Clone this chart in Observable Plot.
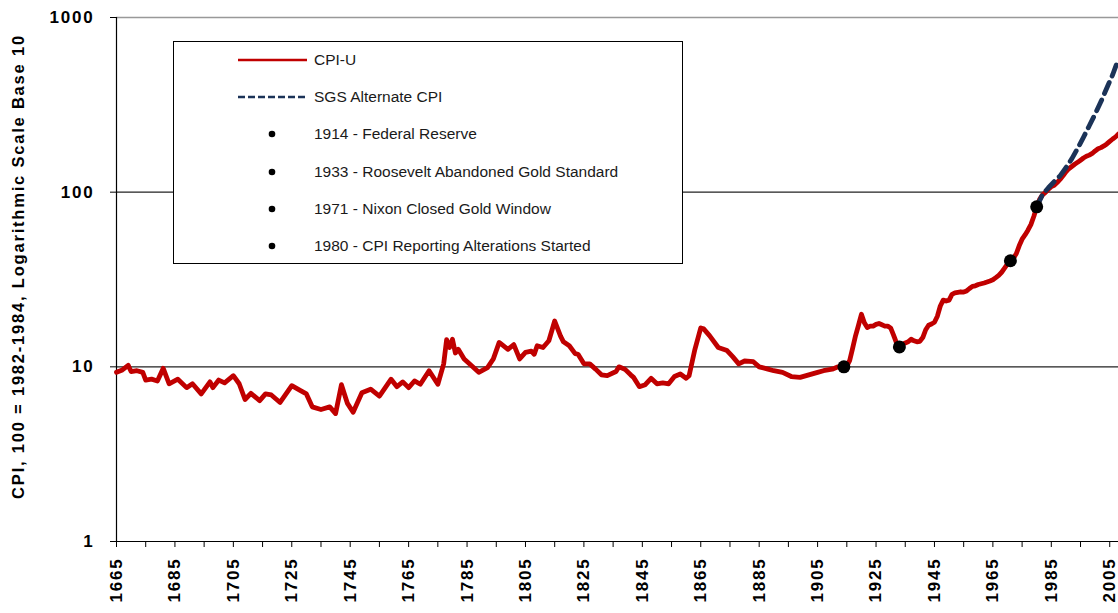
<!DOCTYPE html>
<html>
<head>
<meta charset="utf-8">
<script src="https://cdn.jsdelivr.net/npm/d3@7"></script>
<script src="https://cdn.jsdelivr.net/npm/@observablehq/plot@0.6"></script>
<style>
  html, body { margin: 0; padding: 0; background: #fff; }
  #wrap { position: relative; width: 1118px; height: 613px; }
  #chart svg text { letter-spacing: 1.8px; }
  #legend { position: absolute; left: 173px; top: 41px; width: 508px; height: 221px;
            border: 1px solid #000; background: #fff;
            font-family: "Liberation Sans", Arial, sans-serif; font-size: 15.5px; color: #1a1a1a; }
  #legend .row { position: absolute; left: 0; height: 20px; width: 100%; }
  #legend .sym { position: absolute; left: 60px; top: 0; }
  #legend .lab { position: absolute; left: 140px; top: 1px; white-space: nowrap; }
</style>
</head>
<body>
<div id="wrap">
  <div id="chart"></div>
  <div id="legend"></div>
</div>
<script>
// ---- Data ----
const cpiYears = [1665,1667,1669,1670,1672,1674,1675,1677,1679,1681,1683,1686,1689,1691,1694,1697,1698,1700,1702,1705,1707,1709,1711,1714,1716,1718,1721,1725,1728,1730,1732,1735,1738,1740,1742,1744,1746,1749,1752,1755,1759,1761,1763,1765,1767,1769,1772,1775,1777,1778,1779,1780,1781,1782,1784,1786,1789,1792,1794,1796,1799,1801,1803,1805,1807,1808,1809,1811,1813,1815,1817,1818,1820,1822,1823,1825,1827,1829,1831,1833,1836,1837,1839,1841,1842,1844,1846,1848,1850,1852,1854,1856,1858,1860,1861,1863,1865,1866,1868,1871,1874,1876,1878,1880,1883,1885,1888,1890,1893,1896,1899,1902,1905,1907,1910,1912,
1913,1914,1915,1916,1917,1918,1919,1920,1921,1922,1923,1924,1925,1926,1927,1928,1929,1930,1931,1932,1933,1934,1935,1936,1937,1938,1939,1940,1941,1942,1943,1944,1945,1946,1947,1948,1949,1950,1951,1952,1953,1954,1955,1956,1957,1958,1959,1960,1961,1962,1963,1964,1965,1966,1967,1968,1969,1970,1971,1972,1973,1974,1975,1976,1977,1978,1979,1980,1981,1982,1983,1984,1985,1986,1987,1988,1989,1990,1991,1992,1993,1994,1995,1996,1997,1998,1999,2000,2001,2002,2003,2004,2005,2006,2007,2008];
const cpiValues = [9.3,9.6,10.2,9.4,9.5,9.3,8.4,8.5,8.3,9.8,8.0,8.5,7.6,8.0,7.0,8.2,7.6,8.4,8.1,8.9,8.0,6.5,7.05,6.4,7.0,6.9,6.25,7.8,7.3,7.0,5.9,5.7,5.9,5.4,7.9,6.2,5.5,7.1,7.45,6.8,8.5,7.7,8.2,7.6,8.3,7.95,9.5,7.95,10.4,14.3,12.9,14.4,12.0,12.6,11.1,10.35,9.3,9.9,11.1,13.8,12.6,13.4,11.1,12.1,12.3,11.8,13.2,12.9,14.1,18.3,15.0,13.9,13.2,11.9,11.8,10.4,10.4,9.7,9.0,8.9,9.4,10.0,9.7,9.0,8.7,7.7,7.9,8.6,8.0,8.1,8.0,8.8,9.1,8.6,8.9,12.6,16.7,16.5,15.1,12.9,12.4,11.4,10.4,10.8,10.7,10.0,9.7,9.5,9.3,8.8,8.7,9.0,9.3,9.5,9.7,10.0,
9.9,10.0,10.1,10.9,12.8,15.1,17.3,20.0,17.9,16.8,17.1,17.1,17.5,17.7,17.4,17.1,17.1,16.7,15.2,13.7,13.0,13.4,13.7,13.9,14.4,14.1,13.9,14.0,14.7,16.3,17.3,17.6,18.0,19.5,22.3,24.1,23.8,24.1,26.0,26.5,26.7,26.9,26.8,27.2,28.1,28.9,29.1,29.6,29.9,30.2,30.6,31.0,31.5,32.4,33.4,34.8,36.7,38.8,40.5,41.8,44.4,49.3,53.8,56.9,60.6,65.2,72.6,82.4,90.9,96.5,99.6,103.9,107.6,109.6,113.6,118.3,124.0,130.7,136.2,140.3,144.5,148.2,152.4,156.9,160.5,163.0,166.6,172.2,177.1,179.9,184.0,188.9,195.3,201.6,207.3,215.3];

const sgsYears  = [1980,1982,1984,1986,1988,1990,1992,1994,1996,1998,2000,2002,2004,2006,2008];
const sgsValues = [82.4,97,106,115,124,138,155,178,206,240,280,330,395,470,580];

const eventYears  = [1914,1933,1971,1980];
const eventLabels = ["1914 - Federal Reserve","1933 - Roosevelt Abandoned Gold Standard","1971 - Nixon Closed Gold Window","1980 - CPI Reporting Alterations Started"];

const seriesLabels = ["CPI-U","SGS Alternate CPI"];
const yTicks = [1,10,100,1000];
const xTicks = [1665,1675,1685,1695,1705,1715,1725,1735,1745,1755,1765,1775,1785,1795,1805,1815,1825,1835,1845,1855,1865,1875,1885,1895,1905,1915,1925,1935,1945,1955,1965,1975,1985,1995,2005];
const xLabelled = [1665,1685,1705,1725,1745,1765,1785,1805,1825,1845,1865,1885,1905,1925,1945,1965,1985,2005];
const yTitle = "CPI, 100 = 1982-1984, Logarithmic Scale Base 10";

const RED = "#C00000", NAVY = "#1B3358";

// ---- tables ----
const cpi = cpiYears.map((y, i) => ({year: y, value: cpiValues[i]}));
const sgs = sgsYears.map((y, i) => ({year: y, value: sgsValues[i]}));
const events = eventYears.map(y => ({year: y, value: cpi.find(d => d.year === y).value}));

const chart = Plot.plot({
  width: 1118, height: 613,
  marginLeft: 116, marginRight: 0, marginTop: 17, marginBottom: 72,
  style: {fontFamily: "'Liberation Sans', Arial, sans-serif", fontSize: "17px", fontWeight: "bold", color: "#000", background: "#fff"},
  x: {domain: [1665, 2008]},
  y: {type: "log", domain: [1, 1000]},
  marks: [
    Plot.ruleY([10, 100], {stroke: "#222", strokeWidth: 1.2}),
    Plot.ruleY([1000], {stroke: "#999", strokeWidth: 1.5}),
    Plot.ruleY([1], {stroke: "#000", strokeWidth: 1.2}),
    Plot.ruleX([1665], {stroke: "#000", strokeWidth: 1.2}),
    Plot.axisX({ticks: xTicks, tickFormat: d => xLabelled.includes(d) ? String(d) : "", tickRotate: -90, tickSize: 6, tickPadding: 10, label: null, stroke: "#000"}),
    Plot.axisY({ticks: yTicks, tickFormat: d3.format("d"), tickSize: 6, tickPadding: 16, label: null, stroke: "#000"}),
    Plot.line(cpi, {x: "year", y: "value", stroke: RED, strokeWidth: 4.8, strokeLinejoin: "round"}),
    Plot.line(sgs, {x: "year", y: "value", stroke: NAVY, strokeWidth: 4.8, strokeDasharray: "12,7"}),
    Plot.dot(events, {x: "year", y: "value", r: 6.5, fill: "#000"}),
    Plot.text([yTitle], {text: d => d, frameAnchor: "left", textAnchor: "middle", rotate: -90, dx: -98, dy: -13, fontSize: 16.5, fontWeight: "bold", fill: "#000"})
  ]
});
document.getElementById("chart").appendChild(chart);

// ---- legend ----
const legend = document.getElementById("legend");
const rowTop = i => 8 + i * 37.2;
function addRow(i, symSvg, text) {
  const row = document.createElement("div");
  row.className = "row";
  row.style.top = rowTop(i) + "px";
  row.innerHTML = `<svg class="sym" width="80" height="20">${symSvg}</svg><span class="lab">${text}</span>`;
  legend.appendChild(row);
}
addRow(0, `<line x1="4" x2="73" y1="10" y2="10" stroke="${RED}" stroke-width="2.5"/>`, seriesLabels[0]);
addRow(1, `<line x1="4" x2="73" y1="10" y2="10" stroke="${NAVY}" stroke-width="2.5" stroke-dasharray="7,3"/>`, seriesLabels[1]);
eventLabels.forEach((lab, k) => addRow(2 + k, `<circle cx="38" cy="10" r="3.3" fill="#000"/>`, lab));
</script>
</body>
</html>
